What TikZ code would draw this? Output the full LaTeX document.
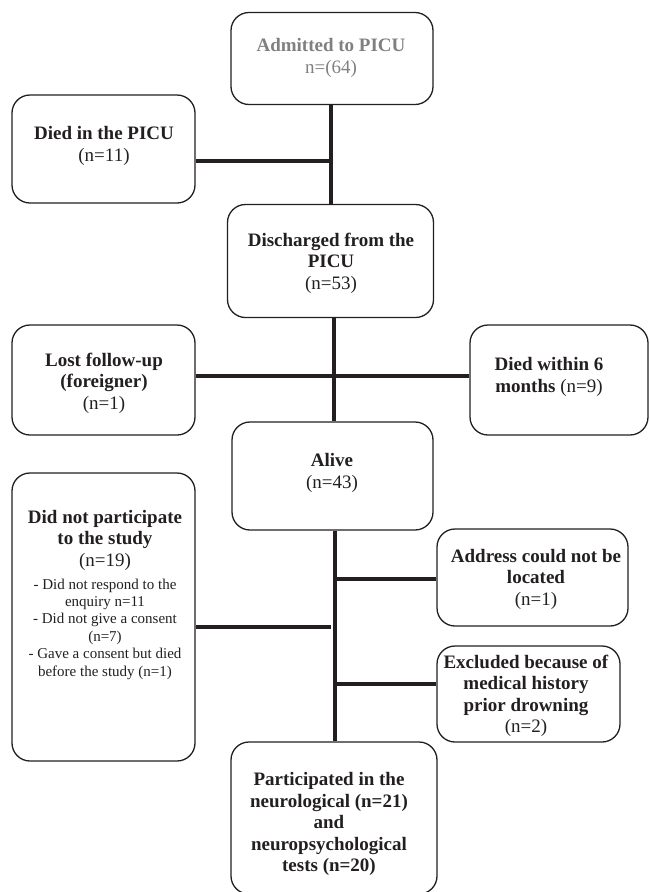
\documentclass[tikz,border=0pt]{standalone}
\usepackage{fontspec}
\setmainfont{Liberation Serif}
\definecolor{ink}{HTML}{231F20}
\definecolor{grayt}{HTML}{808080}
\begin{document}
\begin{tikzpicture}[x=1pt,y=-1pt,
  box/.style={draw=ink, line width=1.3pt, rounded corners=18pt, inner sep=0pt},
  txt/.style={align=center, text=ink, inner sep=0pt, font=\fontsize{19}{21.5}\selectfont},
  small/.style={align=center, text=ink, inner sep=0pt, font=\fontsize{15}{17.4}\selectfont},
  link/.style={draw=ink, line width=3.8pt}]
\useasboundingbox (0,0) rectangle (649,892);
\clip (0,0) rectangle (649,892);

% boxes
\node[box, minimum width=202pt, minimum height=92pt]  (adm)   at (332,58.5) {};
\node[box, minimum width=183pt, minimum height=108pt] (died)  at (103.5,149) {};
\node[box, minimum width=206pt, minimum height=113pt] (dis)   at (330.5,261) {};
\node[box, minimum width=183pt, minimum height=110pt] (lost)  at (103.5,380) {};
\node[box, minimum width=178pt, minimum height=110pt] (dsix)  at (559,380) {};
\node[box, minimum width=201pt, minimum height=108pt] (alive) at (332.5,476) {};
\node[box, minimum width=183pt, minimum height=288pt] (dnp)   at (103.5,617) {};
\node[box, minimum width=191pt, minimum height=97pt]  (addr)  at (532.5,577.5) {};
\node[box, minimum width=183pt, minimum height=96pt]  (excl)  at (528.5,694) {};
\node[box, minimum width=206pt, minimum height=152pt] (part)  at (334,818) {};

% texts
\node[txt, text=grayt] (tadm) at (331,58) {\textbf{Admitted to PICU}\\n=(64)};
\node[txt] (tdied) at (104,146) {\textbf{Died in the PICU}\\(n=11)};
\node[txt] (tdis) at (331,263) {\textbf{Discharged from the}\\\textbf{PICU}\\(n=53)};
\node[txt] (tlost) at (104,383) {\textbf{Lost follow-up}\\\textbf{(foreigner)}\\(n=1)};
\node[txt] (tdsix) at (549,377) {\textbf{Died within 6}\\\textbf{months} (n=9)};
\node[txt] (talive) at (332,473) {\textbf{Alive}\\(n=43)};
\node[txt] (tdnp) at (105,540) {\textbf{Did not participate}\\\textbf{to the study}\\(n=19)};
\node[small] (tdnpd) at (105,629) {- Did not respond to the\\enquiry n=11\\- Did not give a consent\\(n=7)\\- Gave a consent but died\\before the study (n=1)};
\node[txt] (taddr) at (536,579) {\textbf{Address could not be}\\\textbf{located}\\(n=1)};
\node[txt] (texcl) at (526,696) {\textbf{Excluded because of}\\\textbf{medical history}\\\textbf{prior drowning}\\(n=2)};
\node[txt] (tpart) at (329,824) {\textbf{Participated in the}\\\textbf{neurological (n=21)}\\\textbf{and}\\\textbf{neuropsychological}\\\textbf{tests (n=20)}};

% junctions
\coordinate (j1) at (331,161);
\coordinate (j2) at (334,376);
\coordinate (j3) at (331,627);
\coordinate (j4) at (335,579);
\coordinate (j5) at (335,684);

% connectors
\draw[link] (adm.south -| j1) -- (dis.north -| j1);
\draw[link] (j1 -| died.east) -- (j1);
\draw[link] (dis.south -| j2) -- (alive.north -| j2);
\draw[link] (j2 -| lost.east) -- (j2 -| dsix.west);
\draw[link] (alive.south -| j4) -- (part.north -| j4);
\draw[link] (j3 -| dnp.east) -- (j3);
\draw[link] (j4) -- (j4 -| addr.west);
\draw[link] (j5) -- (j5 -| excl.west);
\end{tikzpicture}
\end{document}
